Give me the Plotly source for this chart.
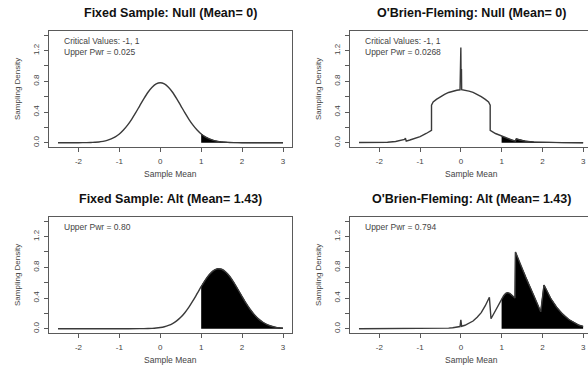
import plotly.graph_objects as go

# ---- Fixed sample design, null hypothesis (mean 0) ----
fs_null_x = [-2.5, -2.0, -1.9, -1.8, -1.7, -1.6, -1.5, -1.4, -1.3, -1.2, -1.1, -1.0,
             -0.9, -0.8, -0.7, -0.6, -0.5, -0.4, -0.3, -0.2, -0.1, 0.0,
             0.1, 0.2, 0.3, 0.4, 0.5, 0.6, 0.7, 0.8, 0.9, 1.0,
             1.1, 1.2, 1.3, 1.4, 1.5, 1.6, 1.7, 1.8, 1.9, 2.0, 2.5, 3.0]
fs_null_y = [0.0, 0.0003, 0.0007, 0.0015, 0.003, 0.006, 0.010, 0.018, 0.030, 0.049, 0.076, 0.114,
             0.165, 0.229, 0.305, 0.391, 0.484, 0.575, 0.658, 0.724, 0.767, 0.782,
             0.767, 0.724, 0.658, 0.575, 0.484, 0.391, 0.305, 0.229, 0.165, 0.114,
             0.076, 0.049, 0.030, 0.018, 0.010, 0.006, 0.003, 0.0015, 0.0007, 0.0003, 0.0, 0.0]

# ---- Fixed sample design, alternative (mean 1.43) ----
fs_alt_x = [-2.5, -2.0, -1.5, -1.0, -0.5, -0.4, -0.3, -0.2, -0.1, 0.0,
            0.1, 0.2, 0.3, 0.4, 0.5, 0.6, 0.7, 0.8, 0.9, 1.0,
            1.1, 1.2, 1.3, 1.4, 1.5, 1.6, 1.7, 1.8, 1.9, 2.0,
            2.1, 2.2, 2.3, 2.4, 2.5, 2.6, 2.7, 2.8, 2.9, 3.0]
fs_alt_y = [0.0, 0.0, 0.0, 0.0, 0.0006, 0.0012, 0.0025, 0.0047, 0.0087, 0.0153,
            0.026, 0.043, 0.067, 0.102, 0.148, 0.208, 0.281, 0.365, 0.456, 0.548,
            0.634, 0.706, 0.757, 0.781, 0.775, 0.740, 0.680, 0.601, 0.511, 0.419,
            0.330, 0.250, 0.183, 0.128, 0.087, 0.056, 0.035, 0.021, 0.012, 0.007]

# ---- O'Brien-Fleming design, null hypothesis (mean 0) ----
obf_null_x = [-2.5, -2.0, -1.8, -1.6, -1.45, -1.38, -1.36, -1.34, -1.25, -1.1, -1.0, -0.85,
              -0.72, -0.72, -0.68, -0.6, -0.5, -0.4, -0.3, -0.2, -0.1, -0.02,
              -0.015, -0.004, 0.0, 0.004, 0.015,
              0.02, 0.1, 0.2, 0.3, 0.4, 0.5, 0.6, 0.68, 0.72, 0.72,
              0.85, 1.0, 1.1, 1.25, 1.34, 1.36, 1.45, 1.6, 1.8, 2.0, 2.05, 2.1, 2.5, 3.0]
obf_null_y = [0.002, 0.003, 0.006, 0.015, 0.03, 0.042, 0.058, 0.02, 0.035, 0.06, 0.08, 0.12,
              0.16, 0.49, 0.53, 0.565, 0.6, 0.63, 0.655, 0.672, 0.684, 0.69,
              0.95, 0.95, 1.24, 0.95, 0.95,
              0.69, 0.684, 0.672, 0.655, 0.63, 0.6, 0.565, 0.53, 0.49, 0.16,
              0.12, 0.085, 0.06, 0.035, 0.02, 0.05, 0.035, 0.018, 0.008, 0.004, 0.012, 0.003, 0.001, 0.0]

# ---- O'Brien-Fleming design, alternative (mean 1.43) ----
obf_alt_x = [-2.5, -1.0, -0.5, -0.3, -0.2, -0.1, -0.02, 0.0, 0.02, 0.1, 0.2, 0.3, 0.4, 0.5, 0.6,
             0.7, 0.74, 0.8, 0.9, 1.0, 1.05, 1.1, 1.15, 1.2, 1.25, 1.33,
             1.34, 1.45, 1.6, 1.8, 1.96, 2.04, 2.1, 2.2, 2.35, 2.5, 2.65, 2.8, 2.9, 3.0]
obf_alt_y = [0.0, 0.0005, 0.003, 0.008, 0.012, 0.02, 0.028, 0.115, 0.032, 0.045, 0.07, 0.1, 0.15, 0.21, 0.3,
             0.41, 0.13, 0.19, 0.3, 0.38, 0.43, 0.46, 0.47, 0.46, 0.44, 0.40,
             1.0, 0.85, 0.66, 0.42, 0.22, 0.57, 0.5, 0.4, 0.28, 0.19, 0.12, 0.07, 0.045, 0.03]

titles = ["Fixed Sample: Null (Mean= 0)", "O'Brien-Fleming: Null (Mean= 0)",
          "Fixed Sample: Alt (Mean= 1.43)", "O'Brien-Fleming: Alt (Mean= 1.43)"]
notes = [["Critical Values: -1, 1", "Upper Pwr = 0.025"],
         ["Critical Values: -1, 1", "Upper Pwr = 0.0268"],
         ["Upper Pwr = 0.80"],
         ["Upper Pwr = 0.794"]]
crit_upper = 1.0
x_ticks = [-2, -1, 0, 1, 2, 3]
y_ticks = [0.0, 0.2, 0.4, 0.6, 0.8, 1.0, 1.2, 1.4]
y_ticktext = ["0.0", "", "0.4", "", "0.8", "", "1.2", ""]

W, H = 588, 368
# panel boxes in pixels: (left, right, top, bottom)
boxes = [(49, 292, 31, 147), (350, 588, 31, 147),
         (49, 292, 217, 333), (350, 588, 217, 333)]
x_ranges = [[-2.72, 3.22], [-2.72, 3.12], [-2.72, 3.22], [-2.72, 3.12]]
y_range = [-0.056, 1.456]

panels = [(fs_null_x, fs_null_y, "spline"), (obf_null_x, obf_null_y, "linear"),
          (fs_alt_x, fs_alt_y, "spline"), (obf_alt_x, obf_alt_y, "linear")]

LINE = "#3a3a3a"
AX = "#5a5a5a"
TXT = "#444444"
FONT = "Liberation Sans, Arial, sans-serif"

fig = go.Figure()
for i, (xs, ys, shape) in enumerate(panels):
    xa = "x" if i == 0 else f"x{i+1}"
    ya = "y" if i == 0 else f"y{i+1}"
    fx = [x for x in xs if x >= crit_upper]
    fy = [y for x, y in zip(xs, ys) if x >= crit_upper]
    fig.add_trace(go.Scatter(x=fx, y=fy, mode="lines", fill="tozeroy",
                             fillcolor="black", line=dict(color="black", width=1, shape=shape,
                                                          smoothing=0.8),
                             xaxis=xa, yaxis=ya, hoverinfo="skip", showlegend=False))
    fig.add_trace(go.Scatter(x=xs, y=ys, mode="lines",
                             line=dict(color=LINE, width=1.4, shape=shape, smoothing=0.8),
                             xaxis=xa, yaxis=ya, hoverinfo="skip", showlegend=False))

layout = dict(width=W, height=H, margin=dict(l=0, r=0, t=0, b=0),
              paper_bgcolor="white", plot_bgcolor="white",
              font=dict(family=FONT, color=TXT), showlegend=False)

annotations = []
for i, (l, r, t, b) in enumerate(boxes):
    suffix = "" if i == 0 else str(i + 1)
    layout["xaxis" + suffix] = dict(
        domain=[l / W, r / W], range=x_ranges[i], anchor="y" + suffix,
        showline=True, linecolor=AX, linewidth=1, mirror=True,
        ticks="outside", ticklen=4, tickwidth=1, tickcolor=AX,
        tickvals=x_ticks, ticktext=[str(v) for v in x_ticks],
        tickfont=dict(size=8, color=TXT), ticklabelstandoff=2,
        showgrid=False, zeroline=False, fixedrange=True)
    layout["yaxis" + suffix] = dict(
        domain=[1 - b / H, 1 - t / H], range=y_range, anchor="x" + suffix,
        showline=True, linecolor=AX, linewidth=1, mirror=True,
        ticks="outside", ticklen=4, tickwidth=1, tickcolor=AX,
        tickvals=y_ticks, ticktext=y_ticktext, tickangle=-90,
        tickfont=dict(size=8, color=TXT), ticklabelstandoff=2,
        showgrid=False, zeroline=False, fixedrange=True)

    cx = (l + (l + 243)) / 2
    annotations.append(dict(text="<b>" + titles[i] + "</b>", x=cx / W, y=1 - (t - 18) / H,
                            xref="paper", yref="paper", xanchor="center", yanchor="middle",
                            showarrow=False, font=dict(size=12.5, color="#111111")))
    annotations.append(dict(text="Sample Mean", x=cx / W, y=1 - (b + 27) / H,
                            xref="paper", yref="paper", xanchor="center", yanchor="middle",
                            showarrow=False, font=dict(size=8.5, color=TXT)))
    annotations.append(dict(text="Sampling Density", x=(l - 32) / W, y=1 - ((t + b) / 2) / H,
                            xref="paper", yref="paper", xanchor="center", yanchor="middle",
                            textangle=-90, showarrow=False, font=dict(size=8, color=TXT)))
    for k, line in enumerate(notes[i]):
        annotations.append(dict(text=line, x=(l + 13) / W, y=1 - (t + 10 + 11 * k) / H,
                                xref="paper", yref="paper", xanchor="left", yanchor="middle",
                                showarrow=False, font=dict(size=8.5, color=TXT)))

layout["annotations"] = annotations
fig.update_layout(**layout)
fig.write_html("out.html", config={"displayModeBar": False})
